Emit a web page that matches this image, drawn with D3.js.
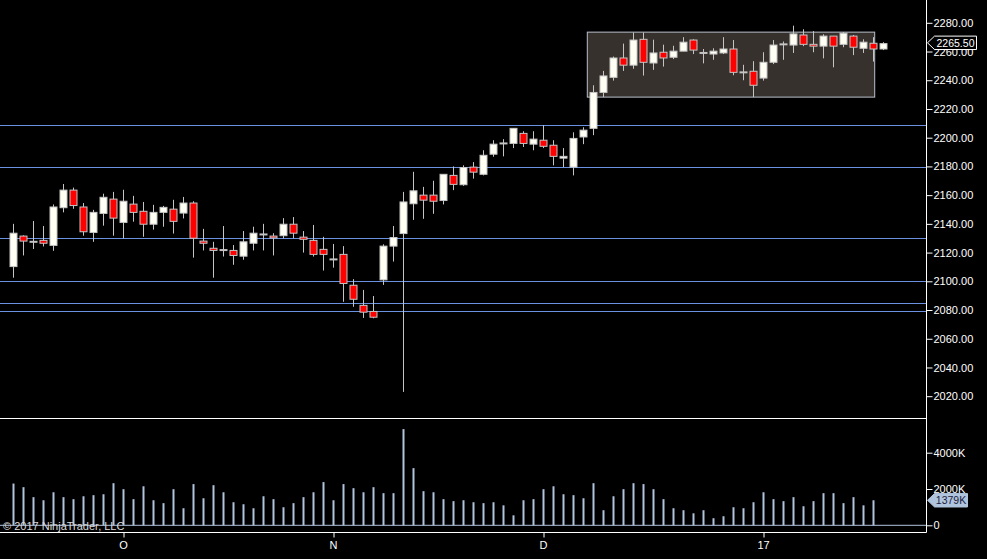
<!DOCTYPE html>
<html>
<head>
<meta charset="utf-8">
<script src="https://cdn.jsdelivr.net/npm/d3@7"></script>
<style>
  html, body { margin: 0; padding: 0; background: #000; }
  svg { display: block; }
  text { font-family: "Liberation Sans", Arial, sans-serif; font-size: 11px; }
</style>
</head>
<body>
<svg id="chart"></svg>
<script>
// daily bars, Sep 16 2016 .. Jan 2017
const opens = [2110.25,2131.5,2127.5,2128.5,2125,2151.25,2163.5,2151.75,2134,2147.25,2157.25,2141,2153.75,2148.75,2139.75,2148,2150.25,2147.5,2154.5,2128,2123,2121.75,2121.5,2117.5,2126.5,2132.5,2131.5,2131.75,2139.75,2130.75,2128.5,2122.25,2115.25,2118.75,2097.25,2083.25,2079,2101,2124.5,2133.25,2154,2160,2160,2156.25,2173.75,2167.25,2179.5,2174.5,2188.5,2196,2196,2203,2195.5,2198.25,2194.75,2185.75,2179.5,2200.5,2206.5,2231.5,2242,2255.5,2250.5,2268.5,2252,2259.5,2256,2260.25,2268,2259,2258.25,2259,2261.75,2245.5,2246.25,2241.5,2252.5,2264.5,2264.5,2271.5,2265,2263.75,2270.75,2265,2270.75,2262.25,2265.75,2261.75];
const highs = [2140,2132,2142,2138.5,2153.5,2167.75,2165.25,2154.5,2149.75,2161,2162.25,2163.75,2159.5,2155.25,2153.25,2152.5,2156.75,2158.75,2155.75,2136.5,2127.5,2138.5,2125.25,2135,2138,2140,2133.5,2144,2144.75,2135,2139.25,2131,2126,2124.5,2101.5,2094,2089.75,2125.75,2138.5,2162.25,2176.25,2165.75,2170,2174.5,2180,2180.75,2183,2191.25,2198.25,2199,2206.75,2204.5,2204.5,2208.75,2198.25,2192.75,2203.75,2207.25,2236.5,2246.5,2256.5,2265.5,2273.25,2273.25,2268.25,2264.75,2264,2270,2268.5,2261.75,2262.25,2270,2268,2250.75,2253.25,2259.5,2268,2267,2278,2275.5,2274.25,2272,2270.75,2273.5,2271.5,2268.5,2270,2266.5];
const lows = [2102.5,2118,2122.5,2124.25,2121.25,2148,2150.5,2131.75,2127.5,2138.75,2131.75,2130,2141.5,2131,2136,2138,2133.25,2143.75,2116.5,2121.5,2102.5,2117.25,2111.5,2115,2121.5,2121.5,2118,2130,2130,2120,2117.25,2107.5,2109.5,2085.75,2082.25,2074.5,2074.25,2097.5,2113.75,2023,2142.75,2143.5,2147,2153.5,2163.5,2166.5,2171.5,2173.75,2186.75,2187,2192.75,2193.5,2191.25,2192.75,2180.75,2179.5,2173.75,2195.5,2201.75,2228.25,2239.75,2246.5,2248,2243.25,2247.25,2249.5,2254.75,2260.25,2258.25,2251.75,2254.25,2258.25,2243.5,2240,2228.25,2239.75,2251.25,2254.25,2259,2263.75,2259.5,2255.25,2249,2263,2257.5,2259,2253,2261];
const closes = [2133.5,2128,2127.5,2126.5,2151.75,2163.5,2152.75,2134.5,2148,2158.5,2144,2155.75,2148,2139.75,2148,2151.5,2141.75,2154.5,2130,2126.5,2121.5,2121.75,2118,2127.5,2133.5,2132.75,2130.25,2139.75,2133.5,2129.25,2118.75,2118.75,2115.25,2098.5,2087.5,2078.5,2075,2124.5,2130.5,2155.25,2163,2156.5,2155.75,2174.5,2167.5,2179.25,2176,2187.75,2195.5,2196,2206.5,2196,2199,2194,2187,2187,2199.5,2205.25,2231.5,2243,2255.5,2250.5,2268,2252.5,2259,2255.5,2260.25,2266.5,2261,2259,2260.25,2261.75,2245.5,2245.5,2236.5,2252.5,2264.5,2265.5,2272.25,2265,2263.75,2270.75,2263.75,2272.75,2263,2266.5,2261.75,2265.5];
// volume in thousands (last bar has no volume yet)
const volumes = [2300,2100,1550,1380,1820,1550,1440,1600,1660,1710,2320,1990,1440,2150,1380,1220,1990,940,2270,1490,2210,1820,1270,1160,940,1600,1440,995,1220,1550,1820,2380,1380,2270,2045,1820,2100,1770,1770,5300,3150,1880,1820,1440,1330,1380,1270,1220,1270,1100,550,1380,1440,1990,2150,1710,1660,1490,2320,830,1600,1990,2320,2270,1990,1440,940,830,660,830,390,500,995,940,1270,1820,1440,1330,1550,1050,1330,1770,1770,1220,1550,1100,1379];

const dateTickIdx = [11, 32, 53, 75];
const dateTickText = ["O", "N", "D", "17"];

const hLines = [2208.75, 2179.75, 2130.25, 2100.25, 2085, 2079.25];
const priceTicks = d3.range(2020, 2281, 20);
const volTicks = [0, 2000, 4000];

// drawn rectangle (bar index / price anchors)
const boxStart = 57.43, boxEnd = 86.17, boxTop = 2273.5, boxBottom = 2228.25;

const width = 987, height = 559;
const axisX = 926.5;
const priceBottom = 418.5, volBottom = 532.5;

const svg = d3.select("#chart").attr("width", width).attr("height", height);
svg.append("rect").attr("width", width).attr("height", height).attr("fill", "#000");

const x = d3.scaleLinear().domain([0, 87]).range([13, 883]);
const y = d3.scaleLinear().domain([2020, 2280]).range([396.2, 22.8]);
const yv = d3.scaleLinear().domain([0, 4000]).range([525.3, 452.7]);

// drawing object
svg.append("rect")
    .attr("x", x(boxStart)).attr("y", y(boxTop))
    .attr("width", x(boxEnd) - x(boxStart))
    .attr("height", y(boxBottom) - y(boxTop))
    .attr("fill", "#36312c")
    .attr("stroke", "#b8c0cc")
    .attr("stroke-width", 1);

// horizontal lines
svg.selectAll(".hline").data(hLines).enter().append("line")
    .attr("x1", 0).attr("x2", axisX)
    .attr("y1", d => Math.round(y(d)) + 0.5).attr("y2", d => Math.round(y(d)) + 0.5)
    .attr("stroke", "#6a92e0").attr("stroke-width", 1);

// candles
const bars = d3.range(opens.length);
const g = svg.append("g");
bars.forEach(i => {
    const cx = x(i) + 0.5;
    g.append("line")
        .attr("x1", cx).attr("x2", cx)
        .attr("y1", y(highs[i])).attr("y2", y(lows[i]))
        .attr("stroke", "#c4c4c4").attr("stroke-width", 1);
    const top = y(Math.max(opens[i], closes[i]));
    const bot = y(Math.min(opens[i], closes[i]));
    const up = closes[i] >= opens[i];
    const h = bot - top;
    if (h < 1.5) {
        g.append("line")
            .attr("x1", x(i) - 3.5).attr("x2", x(i) + 4.5)
            .attr("y1", (top + bot) / 2).attr("y2", (top + bot) / 2)
            .attr("stroke", "#c4c4c4").attr("stroke-width", 2);
    } else {
        g.append("rect")
            .attr("x", x(i) - 3).attr("y", top)
            .attr("width", 7).attr("height", h)
            .attr("fill", up ? "#fffff4" : "#ff0000")
            .attr("stroke", "#c4c4c4").attr("stroke-width", 1);
    }
});

// volume
svg.append("line")
    .attr("x1", 0).attr("x2", axisX)
    .attr("y1", yv(0)).attr("y2", yv(0))
    .attr("stroke", "#b0c4de").attr("stroke-width", 1);
svg.selectAll(".vol").data(volumes).enter().append("rect")
    .attr("x", (d, i) => x(i) - 0.5)
    .attr("y", d => yv(d))
    .attr("width", 2)
    .attr("height", d => yv(0) - yv(d))
    .attr("fill", "#b0c4de");

// panel frames
svg.append("line").attr("x1", 0).attr("x2", axisX).attr("y1", priceBottom).attr("y2", priceBottom)
    .attr("stroke", "#fff");
svg.append("line").attr("x1", 0).attr("x2", axisX).attr("y1", volBottom).attr("y2", volBottom)
    .attr("stroke", "#fff");
svg.append("line").attr("x1", axisX).attr("x2", axisX).attr("y1", 0).attr("y2", volBottom)
    .attr("stroke", "#fff");

// price axis
const pAxis = svg.append("g").attr("transform", `translate(${axisX},0)`)
    .call(d3.axisRight(y).tickValues(priceTicks).tickFormat(d3.format(".2f")).tickSize(6).tickPadding(1));
pAxis.select(".domain").remove();
pAxis.selectAll("line").attr("stroke", "#fff");
pAxis.selectAll("text").attr("fill", "#fff").style("font-size", "11px")
    .style("font-family", "'Liberation Sans', Arial, sans-serif");

// volume axis
const vAxis = svg.append("g").attr("transform", `translate(${axisX},0)`)
    .call(d3.axisRight(yv).tickValues(volTicks).tickFormat(d => d === 0 ? "0" : d + "K").tickSize(6).tickPadding(1));
vAxis.select(".domain").remove();
vAxis.selectAll("line").attr("stroke", "#fff");
vAxis.selectAll("text").attr("fill", "#fff").style("font-size", "11px")
    .style("font-family", "'Liberation Sans', Arial, sans-serif");

// date axis
const tAxis = svg.append("g").attr("transform", `translate(0,${volBottom})`)
    .call(d3.axisBottom(x).tickValues(dateTickIdx).tickFormat((d, i) => dateTickText[i]).tickSize(5).tickPadding(4));
tAxis.select(".domain").remove();
tAxis.selectAll("line").attr("stroke", "#fff").attr("transform", "translate(0.5,0)");
tAxis.selectAll("text").attr("fill", "#fff").style("font-size", "11px")
    .style("font-family", "'Liberation Sans', Arial, sans-serif");

// last value markers (drawn over the axis labels, as in the platform)
function marker(yPos, label, fill, stroke, textColor, w, fs) {
    const x0 = axisX + 1, x1 = axisX + 8, x2 = x1 + w, hh = 6.7;
    svg.append("path")
        .attr("d", `M${x0},${yPos} L${x1},${yPos - hh} L${x2},${yPos - hh} L${x2},${yPos + hh} L${x1},${yPos + hh} Z`)
        .attr("fill", fill).attr("stroke", stroke).attr("stroke-width", 1);
    svg.append("text")
        .attr("x", x1 + w / 2).attr("y", yPos + 4)
        .attr("text-anchor", "middle")
        .style("font-size", fs + "px")
        .attr("fill", textColor).text(label);
}
const lastClose = closes[closes.length - 1];
const lastVol = volumes[volumes.length - 1];
marker(y(lastClose) - 0.8, d3.format(".2f")(lastClose), "#000", "#fff", "#fff", 42, 10.5);
marker(yv(lastVol), lastVol + "K", "#b0c4de", "#b0c4de", "#1c1c40", 33, 10.5);

// copyright
svg.append("text")
    .attr("x", 3).attr("y", 530)
    .attr("fill", "#d8d8d8")
    .text("© 2017 NinjaTrader, LLC");
</script>
</body>
</html>
